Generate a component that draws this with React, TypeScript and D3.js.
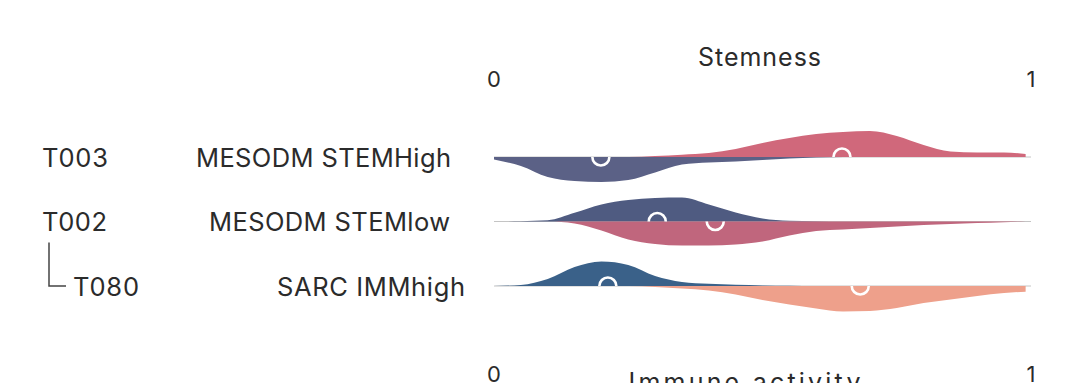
import React from "react";
import * as d3 from "d3";

// ---- data ----
const sampleIds = ["T003", "T002", "T080"];
const groupNames = ["MESODM STEMHigh", "MESODM STEMlow", "SARC IMMhigh"];
const axisTicks = [0, 1];
const topAxisTitle = "Stemness";
const bottomAxisTitle = "Immune activity";

// evaluation grid of the density estimates
const grid = [0, 0.05, 0.1, 0.15, 0.2, 0.25, 0.3, 0.35, 0.4, 0.45, 0.5, 0.55, 0.6, 0.65, 0.7, 0.75, 0.8, 0.85, 0.9, 0.95, 0.99];

// density above the baseline (per row)
const upperDensity = [
  [0, 0, 0, 0, 0, 0, 1, 2.3, 4, 8, 14, 19, 23, 25, 26, 21, 12, 5.5, 4.5, 4.5, 3],
  [0, 0.3, 1.2, 8.7, 17, 21.5, 23.5, 24, 17, 9, 3, 0.7, 0.2, 0, 0, 0, 0, 0, 0, 0, 0],
  [0, 1, 7, 19, 24.5, 21, 10, 4, 2.2, 1.2, 0.6, 0.3, 0, 0, 0, 0, 0, 0, 0, 0, 0],
];
// density below the baseline (per row)
const lowerDensity = [
  [2.5, 9, 20, 24, 25, 23, 15.5, 7.5, 5.5, 4.5, 3, 1.5, 0.5, 0, 0, 0, 0, 0, 0, 0, 0],
  [0, 0, 0, 2, 9, 18, 22.5, 24, 24, 23, 20, 14, 9.5, 8, 6.5, 5, 3.5, 2.5, 1.5, 0.7, 0],
  [0, 0, 0, 0, 0, 0, 1, 2.5, 4.5, 8.5, 14, 18.5, 22.5, 25.5, 25, 22, 17, 13.5, 10, 7, 5.7],
];
const upperMedians = [0.648, 0.304, 0.212];
const lowerMedians = [0.199, 0.412, 0.682];

const upperColors = ["#d0687b", "#4f5b81", "#3a6189"];
const lowerColors = ["#5b6186", "#c0667d", "#eea08b"];

// ---- layout ----
const W = 1067;
const H = 383;
const idX = [42, 42, 73];
const idWidth = [66, 65, 66];
const nameEndX = [451, 450, 465];
const nameWidth = [255, 241, 188];
const FONT = "Inter, 'Open Sans', sans-serif";
const TEXT = "#2b2b2b";

export default function App() {
  const x = d3.scaleLinear().domain([0, 1]).range([494, 1031]);
  const row = d3.scalePoint<string>().domain(groupNames).range([157, 286]);
  const h = d3.scaleLinear().domain([0, 26]).range([0, 26]);

  const area = (dens: number[], base: number, dir: number) =>
    d3
      .area<number>()
      .x((_, i) => x(grid[i]))
      .y0(base)
      .y1((d) => base - dir * h(d))
      .curve(d3.curveMonotoneX)(dens) as string;

  return (
    <svg
      width={W}
      height={H}
      style={{ position: "absolute", left: 0, top: 0, background: "#fff" }}
      fontFamily={FONT}
    >
      <defs>
        {groupNames.map((g, i) => {
          const b = row(g)!;
          return (
            <React.Fragment key={g}>
              <clipPath id={`up${i}`}>
                <rect x={x(0) - 20} y={b - 40} width={x(1) - x(0) + 40} height={40} />
              </clipPath>
              <clipPath id={`dn${i}`}>
                <rect x={x(0) - 20} y={b} width={x(1) - x(0) + 40} height={40} />
              </clipPath>
            </React.Fragment>
          );
        })}
      </defs>

      {/* top axis */}
      <text
        x={x(0.5) - 3}
        y={66}
        fontSize={25}
        textAnchor="middle"
        fill={TEXT}
        textLength={123}
        lengthAdjust="spacing"
      >
        {topAxisTitle}
      </text>
      {axisTicks.map((t) => (
        <text key={"tt" + t} x={x(t)} y={87} fontSize={22} textAnchor="middle" fill={TEXT}>
          {t}
        </text>
      ))}

      {/* bottom axis */}
      {axisTicks.map((t) => (
        <text key={"bt" + t} x={x(t)} y={382} fontSize={22} textAnchor="middle" fill={TEXT}>
          {t}
        </text>
      ))}
      <text
        x={x(0.5) - 18}
        y={391}
        fontSize={25}
        textAnchor="middle"
        fill={TEXT}
        textLength={232}
        lengthAdjust="spacing"
      >
        {bottomAxisTitle}
      </text>

      {groupNames.map((g, i) => {
        const b = row(g)!;
        return (
          <g key={g}>
            <line x1={x(0)} x2={x(1)} y1={b} y2={b} stroke="#c4c4c4" strokeWidth={1} />
            <path d={area(upperDensity[i], b, 1)} fill={upperColors[i]} />
            <path d={area(lowerDensity[i], b, -1)} fill={lowerColors[i]} />
            <circle
              cx={x(upperMedians[i])}
              cy={b}
              r={8.5}
              fill="none"
              stroke="#fff"
              strokeWidth={2.6}
              clipPath={`url(#up${i})`}
            />
            <circle
              cx={x(lowerMedians[i])}
              cy={b}
              r={8.5}
              fill="none"
              stroke="#fff"
              strokeWidth={2.6}
              clipPath={`url(#dn${i})`}
            />
            <text
              x={idX[i]}
              y={b + 9.5}
              fontSize={25.5}
              fill={TEXT}
              textLength={idWidth[i]}
              lengthAdjust="spacing"
            >
              {sampleIds[i]}
            </text>
            <text
              x={nameEndX[i] - nameWidth[i]}
              y={b + 9.5}
              fontSize={25.5}
              fill={TEXT}
              textLength={nameWidth[i]}
              lengthAdjust="spacing"
            >
              {g}
            </text>
          </g>
        );
      })}

      {/* lineage connector T002 -> T080 */}
      <path
        d={`M${idX[0] + 7},${row(groupNames[1])! + 21} V${row(groupNames[2])!} H${idX[2] - 7}`}
        fill="none"
        stroke="#444"
        strokeWidth={1.5}
      />
    </svg>
  );
}
